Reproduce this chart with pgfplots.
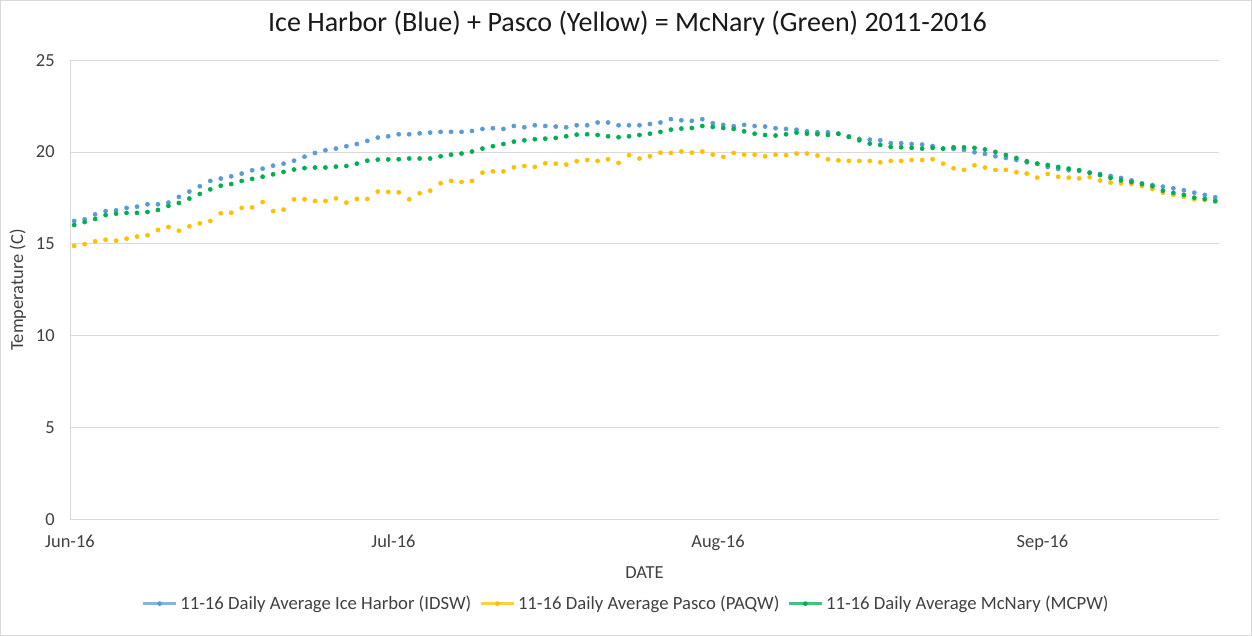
\documentclass[border=0pt]{standalone}
\usepackage{pgfplots}
\pgfplotsset{compat=1.18}
\usepackage{pgfplotstable}
\usepackage{fontspec}
\setmainfont{Carlito}
\definecolor{cblue}{HTML}{5B9BD5}
\definecolor{cyel}{HTML}{FFC000}
\definecolor{cgrn}{HTML}{00B050}
\definecolor{gridc}{HTML}{D9D9D9}
\definecolor{txt}{HTML}{404040}
\pgfplotstableread{
i b y g
0 16.25 14.89 16.03
1 16.34 14.99 16.19
2 16.61 15.14 16.36
3 16.79 15.23 16.57
4 16.83 15.18 16.65
5 16.96 15.29 16.69
6 17.03 15.40 16.69
7 17.16 15.47 16.74
8 17.16 15.76 16.85
9 17.25 15.92 17.07
10 17.56 15.72 17.23
11 17.85 15.96 17.47
12 18.14 16.12 17.72
13 18.43 16.25 17.97
14 18.56 16.67 18.17
15 18.68 16.70 18.26
16 18.83 16.96 18.43
17 19.01 16.99 18.54
18 19.10 17.28 18.66
19 19.26 16.79 18.79
20 19.37 16.87 18.92
21 19.53 17.43 19.05
22 19.75 17.43 19.13
23 19.95 17.34 19.16
24 20.10 17.34 19.16
25 20.19 17.48 19.21
26 20.32 17.25 19.24
27 20.44 17.45 19.37
28 20.61 17.45 19.53
29 20.79 17.85 19.59
30 20.86 17.83 19.60
31 20.97 17.81 19.61
32 20.97 17.43 19.65
33 21.02 17.76 19.65
34 21.06 17.90 19.65
35 21.10 18.30 19.77
36 21.10 18.43 19.86
37 21.10 18.37 19.92
38 21.15 18.43 20.03
39 21.26 18.88 20.19
40 21.30 18.95 20.32
41 21.26 18.95 20.44
42 21.42 19.17 20.57
43 21.35 19.24 20.64
44 21.46 19.19 20.70
45 21.42 19.39 20.73
46 21.39 19.37 20.77
47 21.35 19.32 20.86
48 21.46 19.50 20.95
49 21.46 19.57 20.97
50 21.61 19.52 20.93
51 21.61 19.61 20.86
52 21.46 19.41 20.81
53 21.46 19.83 20.86
54 21.46 19.65 20.93
55 21.53 19.77 21.00
56 21.61 19.97 21.10
57 21.79 19.95 21.22
58 21.73 20.03 21.28
59 21.70 19.97 21.31
60 21.79 20.03 21.42
61 21.57 19.86 21.37
62 21.48 19.74 21.31
63 21.41 19.95 21.26
64 21.48 19.86 21.13
65 21.42 19.86 21.00
66 21.39 19.77 20.93
67 21.30 19.86 20.90
68 21.26 19.83 20.97
69 21.22 19.92 21.06
70 21.13 19.92 21.00
71 21.08 19.81 20.97
72 21.08 19.61 20.93
73 21.00 19.55 21.00
74 20.86 19.52 20.82
75 20.72 19.52 20.64
76 20.68 19.52 20.46
77 20.64 19.44 20.39
78 20.48 19.52 20.28
79 20.48 19.52 20.26
80 20.44 19.57 20.23
81 20.41 19.57 20.19
82 20.33 19.61 20.23
83 20.19 19.37 20.19
84 20.17 19.12 20.26
85 20.12 19.03 20.26
86 19.99 19.28 20.23
87 19.90 19.16 20.14
88 19.77 19.03 20.01
89 19.68 19.03 19.84
90 19.57 18.90 19.68
91 19.44 18.83 19.50
92 19.37 18.61 19.37
93 19.19 18.81 19.30
94 19.08 18.66 19.19
95 19.01 18.61 19.10
96 18.99 18.57 19.01
97 18.88 18.63 18.88
98 18.81 18.45 18.75
99 18.70 18.34 18.59
100 18.59 18.30 18.46
101 18.46 18.26 18.37
102 18.30 18.15 18.26
103 18.21 17.99 18.14
104 18.12 17.79 17.90
105 18.03 17.67 17.78
106 17.92 17.56 17.67
107 17.79 17.43 17.52
108 17.67 17.39 17.45
109 17.54 17.30 17.34
}\data
\begin{document}
\begin{tikzpicture}
\begin{axis}[
  scale only axis,
  width=861pt, height=344.25pt,
  xmin=-0.4, xmax=109.35,
  ymin=0, ymax=25,
  xtick={-0.4,30.5,61.5,92.5},
  xticklabels={Jun-16,Jul-16,Aug-16,Sep-16},
  ytick={0,5,...,25},
  axis line style={gridc, line width=0.75pt},
  axis x line*=bottom, axis y line*=left,
  ymajorgrids, grid style={gridc, line width=0.75pt},
  major tick length=0pt,
  tick label style={font=\fontsize{13.8}{16}\selectfont, text=txt},
  /pgf/number format/assume math mode=true,
  xticklabel style={yshift=-8pt},
  yticklabel style={xshift=-8pt},
  xlabel={DATE},
  ylabel={Temperature (C)},
  label style={font=\fontsize{13.8}{16}\selectfont, text=txt},
  xlabel style={at={(axis description cs:0.5,-0.1155)}, anchor=center},
  ylabel style={at={(axis description cs:-0.0453,0.5)}, anchor=center, rotate=0},
  title={Ice Harbor (Blue) + Pasco (Yellow) = McNary (Green) 2011-2016},
  title style={at={(axis description cs:0.4852,1.063)}, anchor=center, font=\fontsize{21}{25}\selectfont, text=black!90},
  legend columns=3,
  legend style={at={(axis description cs:0.4843,-0.183)}, anchor=center, draw=none, fill=none,
    font=\fontsize{14}{16}\selectfont, text=txt,
    /tikz/every even column/.append style={column sep=4pt}},
  legend image code/.code={
    \draw[#1, line width=2pt, opacity=0.75] (0pt,0pt) -- (25pt,0pt);
    \draw[#1, only marks, mark size=1.5pt] plot coordinates {(12.5pt,0pt)};
  },
  clip=false,
]
\addplot[only marks, mark=*, mark size=1.55pt, color=cblue] table[x=i, y=b] {\data};
\addlegendentry{11-16 Daily Average Ice Harbor (IDSW)}
\addplot[only marks, mark=*, mark size=1.55pt, color=cyel] table[x=i, y=y] {\data};
\addlegendentry{11-16 Daily Average Pasco (PAQW)}
\addplot[only marks, mark=*, mark size=1.55pt, color=cgrn] table[x=i, y=g] {\data};
\addlegendentry{11-16 Daily Average McNary (MCPW)}
\draw[gridc, line width=0.75pt] (rel axis cs:-0.0605,-0.2520) rectangle (rel axis cs:1.0284,1.1300);
\end{axis}
\end{tikzpicture}
\end{document}
